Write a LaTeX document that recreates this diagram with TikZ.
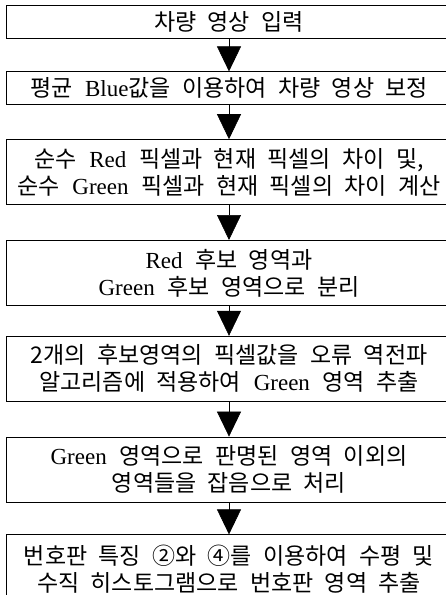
\documentclass[tikz,border=0pt]{standalone}
\usepackage{fontspec}
\setmainfont{Liberation Serif}[WordSpace=2.2]
\newfontfamily\krfont[WordSpace=2.2]{Noto Sans CJK KR}
\newcommand{\hg}[1]{{\krfont #1}}
\usetikzlibrary{positioning,arrows.meta}

\begin{document}
\begin{tikzpicture}[x=1pt,y=1pt,
  stepbox/.style={draw,line width=0.8pt,minimum width=446pt,inner sep=0pt,
    align=center,font=\fontsize{23}{27}\selectfont},
  onerow/.style={stepbox,minimum height=33pt},
  tworow/.style={stepbox,minimum height=65pt},
  flow/.style={line width=0.6pt,-{Triangle[width=24pt,length=25pt]}}]
  \useasboundingbox (0,0) rectangle (445,-595);

  \node[onerow] (s1) at (229,-21.5) {\hg{차량 영상 입력}};
  \node[onerow,below=33pt of s1] (s2) {\hg{평균} Blue\hg{값을 이용하여 차량 영상 보정}};
  \node[tworow,below=34pt of s2] (s3)
    {\hg{순수} Red \hg{픽셀과 현재 픽셀의 차이 및,}\\\hg{순수} Green \hg{픽셀과 현재 픽셀의 차이 계산}};
  \node[tworow,below=35pt of s3] (s4) {Red \hg{후보 영역과}\\Green \hg{후보 영역으로 분리}};
  \node[tworow,below=30pt of s4] (s5)
    {\hg{2개의 후보영역의 픽셀값을 오류 역전파}\\\hg{알고리즘에 적용하여} Green \hg{영역 추출}};
  \node[tworow,below=35pt of s5] (s6) {Green \hg{영역으로 판명된 영역 이외의}\\\hg{영역들을 잡음으로 처리}};
  \node[tworow,minimum height=68pt,below=32pt of s6] (s7)
    {\hg{번호판 특징 ②와 ④를 이용하여 수평 및}\\\hg{수직 히스토그램으로 번호판 영역 추출}};

  \foreach \a/\b in {s1/s2,s2/s3,s3/s4,s4/s5,s5/s6,s6/s7}
  \draw[flow] (\a) -- (\b)
  ;
\end{tikzpicture}
\end{document}
